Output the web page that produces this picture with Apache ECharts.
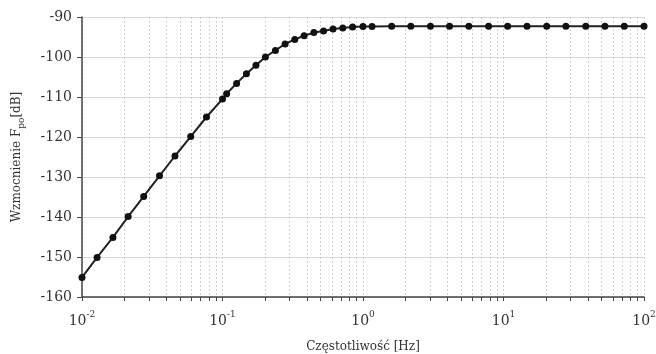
<!DOCTYPE html>
<html>
<head>
<meta charset="utf-8">
<script src="https://cdn.jsdelivr.net/npm/echarts@6/dist/echarts.min.js"></script>
<style>
  html, body { margin: 0; padding: 0; background: #fff; }
  #chart { width: 656px; height: 354px; }
</style>
</head>
<body>
<div id="chart"></div>
<script>
// częstotliwość [Hz]
const freq = [0.01, 0.0128, 0.0166, 0.0213, 0.0275, 0.0356, 0.0459, 0.0594, 0.0769, 0.1,
  0.107, 0.126, 0.148, 0.173, 0.202, 0.238, 0.279, 0.327, 0.381, 0.447,
  0.524, 0.612, 0.718, 0.843, 1.0, 1.16, 1.6, 2.19, 3.02, 4.13,
  5.67, 7.83, 10.7, 14.7, 20.3, 27.8, 38.5, 52.7, 72.4, 100];
// wzmocnienie [dB]
const gain = [-155.1, -150.1, -145.1, -139.9, -134.85, -129.7, -124.75, -119.9, -115.0, -110.5,
  -109.2, -106.6, -104.2, -102.05, -100.0, -98.35, -96.75, -95.6, -94.7, -93.9,
  -93.5, -93.0, -92.75, -92.5, -92.35, -92.35, -92.3, -92.3, -92.3, -92.3,
  -92.3, -92.3, -92.3, -92.3, -92.3, -92.3, -92.3, -92.3, -92.3, -92.3];
// dekady (etykiety osi X)
const decades = [0.01, 0.1, 1, 10, 100];
// mnożniki podziałki pomocniczej
const minorMult = [1, 2, 3, 4, 5, 6, 7, 8, 9];

const xTicks = [];
decades.forEach(d => {
  if (d === 100) { xTicks.push(d); return; }
  minorMult.forEach(m => xTicks.push(+(d * m).toPrecision(3)));
});

const font = 'DejaVu Serif';
const txt = '#333';
const chart = echarts.init(document.getElementById('chart'), null, { renderer: 'canvas' });

const option = {
  animation: false,
  textStyle: { fontFamily: font },
  grid: { left: 82, right: 12, top: 17, bottom: 57, containLabel: false, outerBoundsMode: 'none' },
  xAxis: {
    type: 'log',
    logBase: 10,
    min: 0.01,
    max: 100,
    name: 'Częstotliwość [Hz]',
    nameLocation: 'middle',
    nameGap: 44,
    nameTextStyle: { fontFamily: font, fontSize: 12, color: txt },
    axisLine: { show: true, onZero: false, lineStyle: { color: '#444', width: 1.5 } },
    axisTick: { show: true, customValues: xTicks, length: 4, lineStyle: { color: '#444' } },
    axisLabel: {
      customValues: decades,
      margin: 13,
      color: txt,
      formatter: v => '{b|10}{sup|' + Math.round(Math.log10(v)) + '}',
      rich: {
        b: { fontFamily: font, fontSize: 14, lineHeight: 18, verticalAlign: 'bottom', color: txt },
        sup: { fontFamily: font, fontSize: 9, lineHeight: 10, verticalAlign: 'top', color: txt }
      }
    },
    splitLine: { show: true, lineStyle: { color: '#d0d0d0', type: [2, 2], width: 1 } }
  },
  yAxis: {
    type: 'value',
    min: -160,
    max: -90,
    interval: 10,
    name: 'Wzmocnienie F{sub|po}[dB]',
    nameLocation: 'middle',
    nameGap: 56,
    nameTextStyle: {
      fontFamily: font, fontSize: 12, color: txt, lineHeight: 18,
      rich: {
        sub: { fontFamily: font, fontSize: 9, lineHeight: 10, verticalAlign: 'bottom', color: txt }
      }
    },
    axisLine: { show: true, lineStyle: { color: '#444', width: 1.5 } },
    axisTick: { show: true, length: 5, lineStyle: { color: '#444' } },
    axisLabel: { margin: 10, fontFamily: font, fontSize: 14, color: txt },
    splitLine: { show: true, lineStyle: { color: '#d9d9d9', width: 1 } }
  },
  series: [{
    type: 'line',
    data: freq.map((f, i) => [f, gain[i]]),
    symbol: 'circle',
    symbolSize: 7,
    itemStyle: { color: '#111' },
    lineStyle: { color: '#222', width: 2 }
  }]
};

chart.setOption(option);
</script>
</body>
</html>
